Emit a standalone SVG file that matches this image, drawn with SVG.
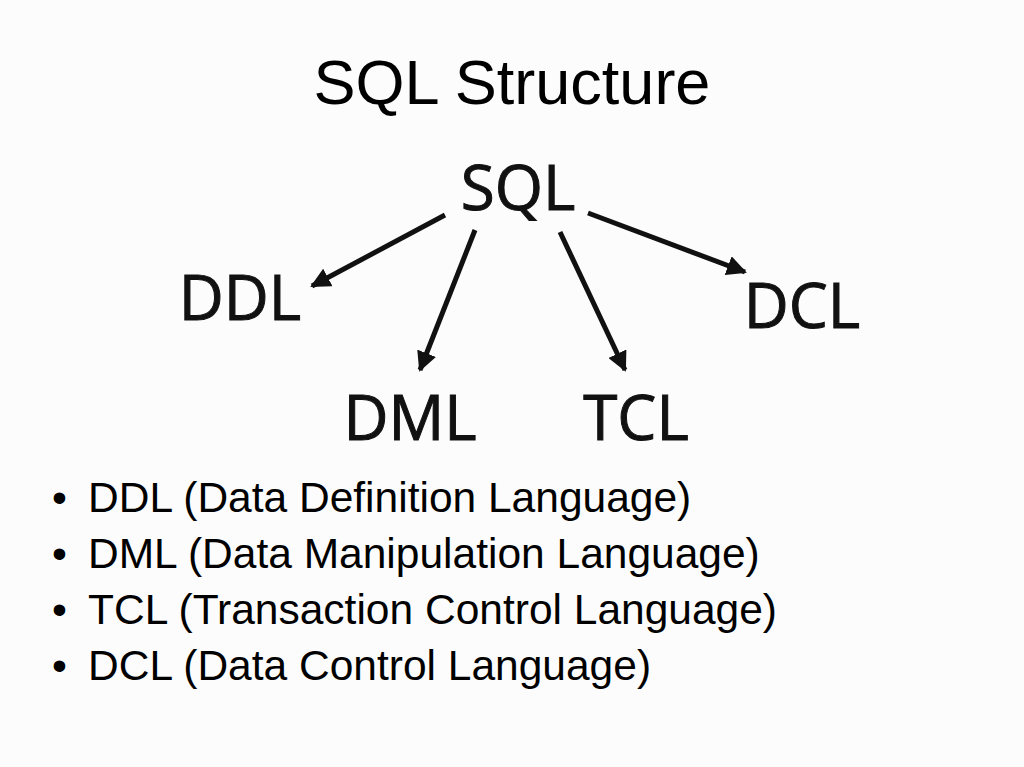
<svg xmlns="http://www.w3.org/2000/svg" width="1024" height="767" viewBox="0 0 1024 767">
<style>
.t{font-family:"Liberation Sans",Arial,sans-serif;fill:#000}
.n{font-family:"Open Sans","Noto Sans",sans-serif;font-size:62px;fill:#111;stroke:#111;stroke-width:1}
.b{font-size:42.5px}
.c{stroke:#111;stroke-width:5;fill:none;marker-end:url(#a)}
</style>
<defs><marker id="a" viewBox="0 0 10 10" refX="9" refY="5" markerWidth="4" markerHeight="4" orient="auto" markerUnits="strokeWidth"><path d="M0,0 L10,5 L0,10 z" fill="#111"/></marker></defs>
<rect width="1024" height="767" fill="#fcfcfc"/>
<text class="t" x="512" y="104" font-size="63" text-anchor="middle">SQL Structure</text>
<g id="sql"><text class="n" x="518" y="210" text-anchor="middle">SQL</text></g>
<g id="ddl"><text class="n" x="240" y="320" text-anchor="middle">DDL</text></g>
<g id="dcl"><text class="n" x="802" y="328" text-anchor="middle">DCL</text></g>
<g id="dml"><text class="n" x="410" y="440" text-anchor="middle">DML</text></g>
<g id="tcl"><text class="n" x="636" y="440" text-anchor="middle">TCL</text></g>
<g id="connectors">
<line class="c" x1="445" y1="215" x2="312" y2="286"/>
<line class="c" x1="475" y1="230" x2="420" y2="370"/>
<line class="c" x1="560" y1="232" x2="625" y2="370"/>
<line class="c" x1="588" y1="213" x2="745" y2="272"/>
</g>
<g class="t b">
<text x="52" y="512">•</text><text x="88" y="512">DDL (Data Definition Language)</text>
<text x="52" y="568">•</text><text x="88" y="568">DML (Data Manipulation Language)</text>
<text x="52" y="624">•</text><text x="88" y="624">TCL (Transaction Control Language)</text>
<text x="52" y="680">•</text><text x="88" y="680">DCL (Data Control Language)</text>
</g>
</svg>
